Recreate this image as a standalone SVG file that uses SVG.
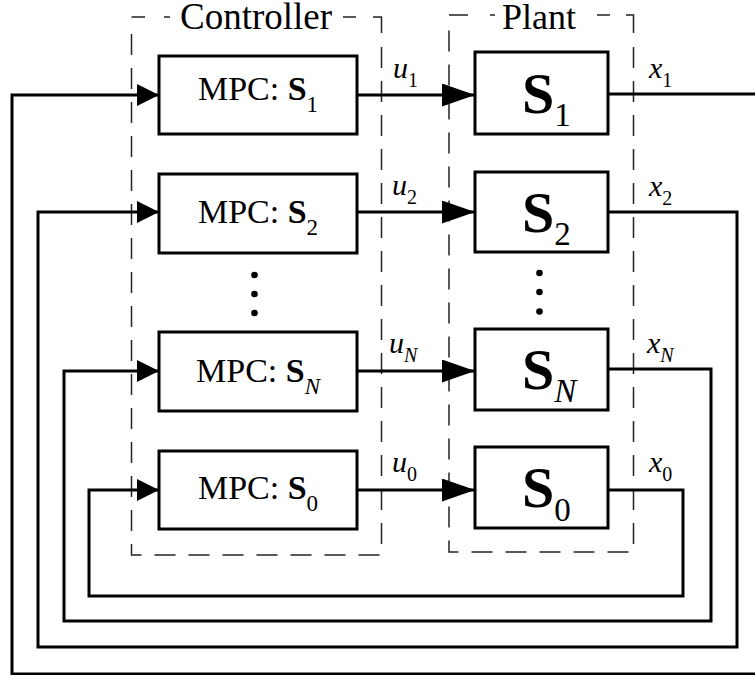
<svg xmlns="http://www.w3.org/2000/svg" width="755" height="675" viewBox="0 0 755 675">
<defs>
<marker id="ahc" markerUnits="userSpaceOnUse" viewBox="0 0 22 22" markerWidth="22" markerHeight="22" refX="22" refY="11" orient="auto"><path d="M0,0L22,11L0,22z" fill="#000"/></marker>
<marker id="ahp" markerUnits="userSpaceOnUse" viewBox="0 0 33 23" markerWidth="33" markerHeight="23" refX="33" refY="11.5" orient="auto"><path d="M0,0L33,11.5L0,23z" fill="#000"/></marker>
</defs>
<rect width="755" height="675" fill="#fff"/>
<g id="frames" fill="none" stroke="#222" stroke-width="1.5">
<g id="controller-frame">
<path d="M131.5,17H145M164,17H170M343,17H356M373,17H381.5V33"/>
<path stroke-dasharray="21 13" d="M381.5,47V555H131.5V32"/>
</g>
<g id="plant-frame">
<path d="M449,15H468M490,15H495M597,15H610M626,15H633.5V33"/>
<path stroke-dasharray="21 13" d="M633.5,47V552H449V20"/>
</g>
</g>
<g id="titles" fill="#000">
<text x="256" y="29" text-anchor="middle" font-size="37" font-family="Times New Roman">Controller</text>
<text x="539" y="29" text-anchor="middle" font-size="36" font-family="Times New Roman">Plant</text>
</g>
<g id="connectors" fill="none" stroke="#000" stroke-width="3">
<path marker-end="url(#ahp)" d="M357,95H475"/>
<path marker-end="url(#ahp)" d="M357,212H475"/>
<path marker-end="url(#ahp)" d="M357,371H475"/>
<path marker-end="url(#ahp)" d="M357,490H475"/>
<path marker-end="url(#ahc)" d="M608,94H758V674H12V95H159"/>
<path marker-end="url(#ahc)" d="M608,212H737V647H38V212H159"/>
<path marker-end="url(#ahc)" d="M608,369H711V621H64V371H159"/>
<path marker-end="url(#ahc)" d="M608,490H683V596H89V490H159"/>
</g>
<g id="labels" font-size="30" font-style="italic" fill="#000">
<text x="393" y="78" font-family="Times New Roman">u<tspan font-size="20" font-style="normal" dy="9">1</tspan></text>
<text x="392" y="195" font-family="Times New Roman">u<tspan font-size="20" font-style="normal" dy="9">2</tspan></text>
<text x="389" y="353" font-family="Times New Roman">u<tspan font-size="20" dy="9">N</tspan></text>
<text x="392" y="472" font-family="Times New Roman">u<tspan font-size="20" font-style="normal" dy="9">0</tspan></text>
<text x="649" y="78" font-family="Times New Roman">x<tspan font-size="20" font-style="normal" dy="9">1</tspan></text>
<text x="649" y="196" font-family="Times New Roman">x<tspan font-size="20" font-style="normal" dy="9">2</tspan></text>
<text x="647" y="353" font-family="Times New Roman">x<tspan font-size="20" dy="9">N</tspan></text>
<text x="649" y="472" font-family="Times New Roman">x<tspan font-size="20" font-style="normal" dy="9">0</tspan></text>
</g>
<g id="controllers" font-size="34" text-anchor="middle">
<g id="mpc1"><rect x="159" y="56" width="198" height="78" fill="#fff" stroke="#000" stroke-width="3"/>
<text x="258" y="100" font-family="Times New Roman">MPC: <tspan font-weight="bold">S</tspan><tspan font-size="23" dy="12">1</tspan></text></g>
<g id="mpc2"><rect x="159" y="174" width="198" height="79" fill="#fff" stroke="#000" stroke-width="3"/>
<text x="258" y="223" font-family="Times New Roman">MPC: <tspan font-weight="bold">S</tspan><tspan font-size="23" dy="12">2</tspan></text></g>
<g id="mpcN"><rect x="159" y="332" width="198" height="79" fill="#fff" stroke="#000" stroke-width="3"/>
<text x="258" y="382" font-family="Times New Roman">MPC: <tspan font-weight="bold">S</tspan><tspan font-size="23" font-style="italic" dy="12">N</tspan></text></g>
<g id="mpc0"><rect x="159" y="451" width="198" height="78" fill="#fff" stroke="#000" stroke-width="3"/>
<text x="258" y="499" font-family="Times New Roman">MPC: <tspan font-weight="bold">S</tspan><tspan font-size="23" dy="12">0</tspan></text></g>
</g>
<g id="plants" font-size="58" font-weight="bold">
<g id="plant1"><rect x="475" y="52" width="133" height="82" fill="#fff" stroke="#000" stroke-width="3"/>
<text x="522" y="113" font-family="Times New Roman">S<tspan font-size="33" font-weight="normal" dy="13">1</tspan></text></g>
<g id="plant2"><rect x="475" y="172" width="133" height="80" fill="#fff" stroke="#000" stroke-width="3"/>
<text x="522" y="232" font-family="Times New Roman">S<tspan font-size="33" font-weight="normal" dy="13">2</tspan></text></g>
<g id="plantN"><rect x="475" y="329" width="133" height="81" fill="#fff" stroke="#000" stroke-width="3"/>
<text x="522" y="389" font-family="Times New Roman">S<tspan font-size="33" font-weight="normal" font-style="italic" dy="13">N</tspan></text></g>
<g id="plant0"><rect x="475" y="447" width="133" height="81" fill="#fff" stroke="#000" stroke-width="3"/>
<text x="522" y="507" font-family="Times New Roman">S<tspan font-size="33" font-weight="normal" dy="14">0</tspan></text></g>
</g>
<g id="dots" fill="#000">
<circle cx="254.5" cy="275" r="3.3"/><circle cx="254.5" cy="294" r="3.3"/><circle cx="254.5" cy="313" r="3.3"/>
<circle cx="539.5" cy="273" r="3.3"/><circle cx="539.5" cy="292" r="3.3"/><circle cx="539.5" cy="311.5" r="3.3"/>
</g>
</svg>
